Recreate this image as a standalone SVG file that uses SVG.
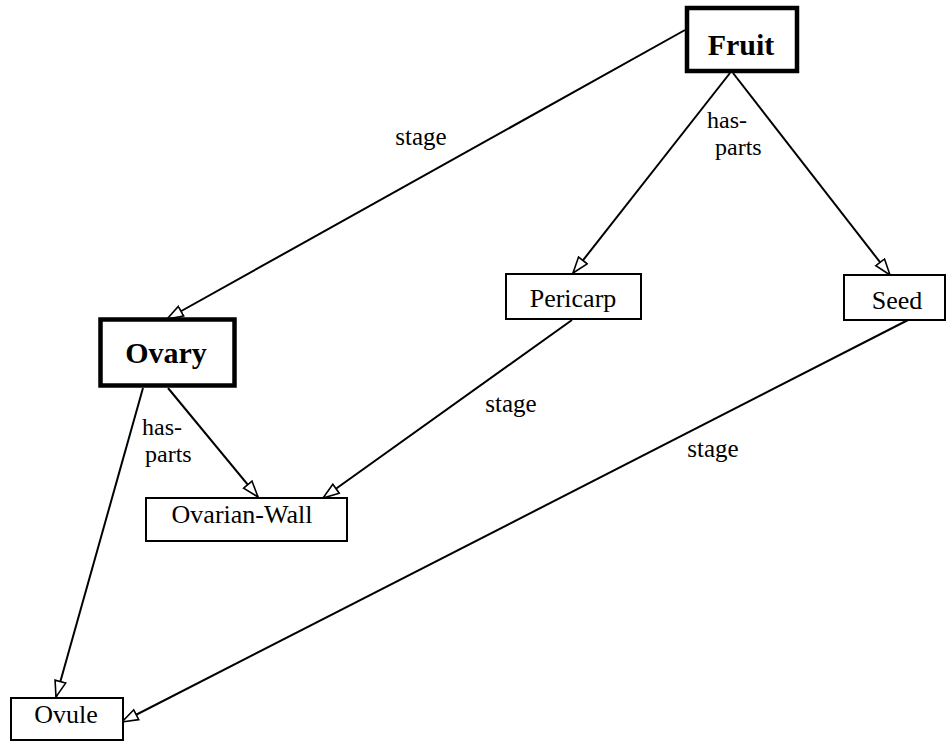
<svg xmlns="http://www.w3.org/2000/svg" width="947" height="742" viewBox="0 0 947 742">
  <style>
    .box { fill: #fff; stroke: #000; stroke-width: 2; }
    .key { fill: #fff; stroke: #000; stroke-width: 4.5; }
    text { font-family: "Liberation Serif", "Times New Roman", Tinos, "DejaVu Serif", serif; fill: #000; }
    .lbl { font-size: 26px; text-anchor: middle; }
    .bold { font-weight: bold; font-size: 30px; }
    .edge { stroke: #000; stroke-width: 2; fill: none; marker-end: url(#open); }
    .elbl { font-size: 25px; }
    .two { font-size: 24px; }
  </style>
  <defs>
    <marker id="open" viewBox="0 0 18 14" refX="17" refY="7" markerWidth="18" markerHeight="14" markerUnits="userSpaceOnUse" orient="auto">
      <path d="M1,1.5 L17,7 L1,12.5 Z" fill="#fff" stroke="#000" stroke-width="1.6"/>
    </marker>
  </defs>

  <rect width="947" height="742" fill="#fff"/>

  <!-- connectors -->
  <g id="edges">
    <line class="edge" x1="685" y1="30" x2="167" y2="319"/>
    <line class="edge" x1="730" y1="73" x2="573" y2="273"/>
    <line class="edge" x1="733" y1="73" x2="890" y2="275"/>
    <line class="edge" x1="168" y1="388" x2="258" y2="497"/>
    <line class="edge" x1="143" y1="388" x2="56" y2="697"/>
    <line class="edge" x1="572" y1="320" x2="323" y2="498"/>
    <line class="edge" x1="908" y1="320" x2="122" y2="722"/>

    <text class="elbl" x="421" y="145" text-anchor="middle">stage</text>
    <text class="elbl two" x="707" y="128">has-<tspan x="715" y="155">parts</tspan></text>
    <text class="elbl two" x="142" y="435">has-<tspan x="145" y="462">parts</tspan></text>
    <text class="elbl" x="511" y="412" text-anchor="middle">stage</text>
    <text class="elbl" x="713" y="457" text-anchor="middle">stage</text>
  </g>

  <!-- nodes -->
  <g id="fruit">
    <rect class="key" x="687" y="8" width="110" height="63"/>
    <text class="lbl bold" x="741" y="55">Fruit</text>
  </g>
  <g id="ovary">
    <rect class="key" x="100.5" y="319.5" width="134" height="66"/>
    <text class="lbl bold" x="166" y="363">Ovary</text>
  </g>
  <g id="pericarp">
    <rect class="box" x="506" y="274" width="135" height="45"/>
    <text class="lbl" x="573" y="307">Pericarp</text>
  </g>
  <g id="seed">
    <rect class="box" x="844" y="275" width="101" height="45"/>
    <text class="lbl" x="897" y="309">Seed</text>
  </g>
  <g id="ovarian-wall">
    <rect class="box" x="146" y="498" width="201" height="43"/>
    <text class="lbl" x="242" y="523">Ovarian-Wall</text>
  </g>
  <g id="ovule">
    <rect class="box" x="11" y="698" width="112" height="42"/>
    <text class="lbl" x="66" y="723">Ovule</text>
  </g>
</svg>
